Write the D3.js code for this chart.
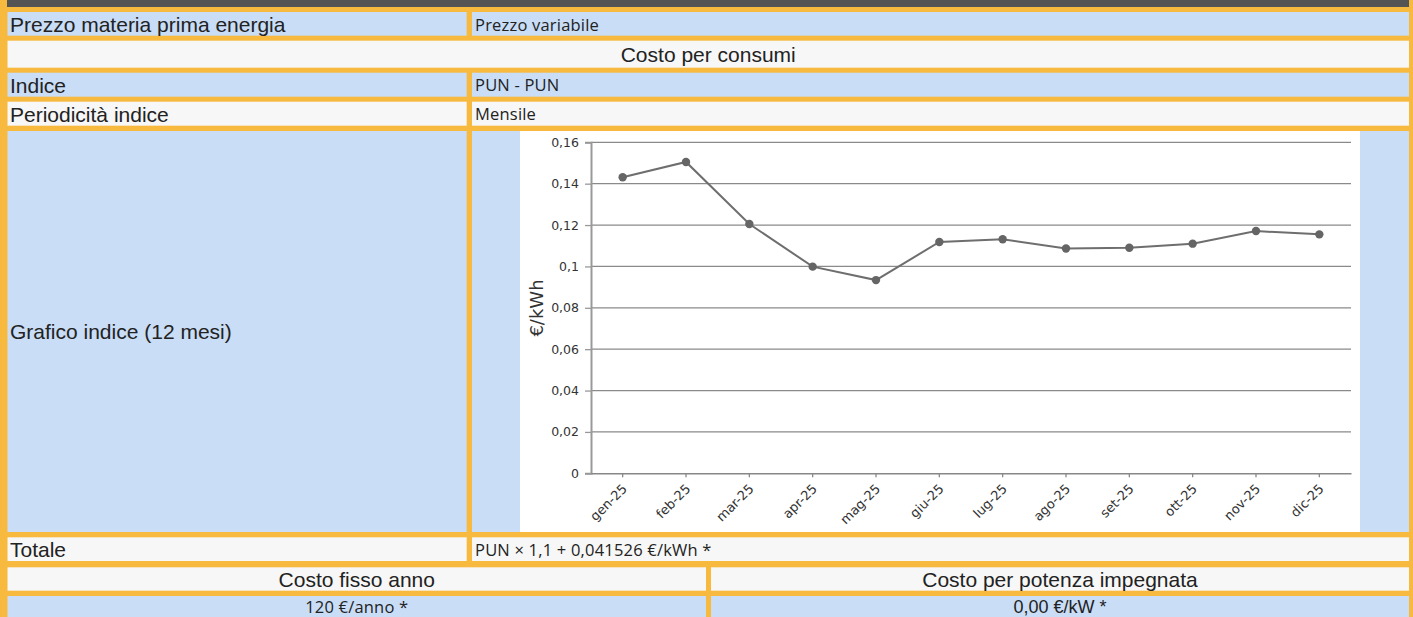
<!DOCTYPE html>
<html><head><meta charset="utf-8">
<script src="https://cdn.jsdelivr.net/npm/d3@7"></script>
<style>html,body{margin:0;padding:0;background:#fff;overflow:hidden}</style>
</head><body><svg id="c" width="1413" height="617"></svg>
<script>
// ---- data ----
const months = ["gen-25","feb-25","mar-25","apr-25","mag-25","giu-25","lug-25","ago-25","set-25","ott-25","nov-25","dic-25"];
const pun = [0.1431,0.1505,0.1205,0.0999,0.0934,0.1118,0.1131,0.1087,0.1090,0.1110,0.1171,0.1155];
const yTickValues = [0,0.02,0.04,0.06,0.08,0.1,0.12,0.14,0.16];
const yTitle = "€/kWh";
const rowLabels = ["Prezzo materia prima energia","Indice","Periodicità indice","Grafico indice (12 mesi)","Totale"];
const rowValues = ["Prezzo variabile","PUN - PUN","Mensile","","PUN × 1,1 + 0,041526 €/kWh *"];
const sectionTitle = "Costo per consumi";
const splitHeads = ["Costo fisso anno","Costo per potenza impegnata"];
const splitValues = ["120 €/anno *","0,00 €/kW *"];

// ---- drawing ----
const W = 1413, H = 617;
const C = {orange:"#f7b93e", blue:"#c9ddf6", gray:"#f7f7f7", dark:"#545454", text:"#222"};
const SANS = "'Liberation Sans', Arial, sans-serif";
const VAL = "'Open Sans', sans-serif";
const svg = d3.select("#c");
svg.append("rect").attr("width", W).attr("height", H).attr("fill", C.orange);
svg.append("rect").attr("x", 7).attr("y", 0).attr("width", 1402).attr("height", 7).attr("fill", C.dark);

const L0 = 7.5, L1 = 466.7, R0 = 472, R1 = 1409, M0 = 706, M1 = 711;
const rows = [
  {y0:12, y1:35.7, type:"pair", fill:C.blue, i:0},
  {y0:40.7, y1:67.7, type:"head", fill:C.gray},
  {y0:72.7, y1:96.7, type:"pair", fill:C.blue, i:1},
  {y0:101.7, y1:125.7, type:"pair", fill:C.gray, i:2},
  {y0:131, y1:532, type:"pair", fill:C.blue, i:3, chart:true},
  {y0:537.3, y1:561, type:"pair", fill:C.gray, i:4},
  {y0:567.3, y1:590.7, type:"split", fill:C.gray, texts:splitHeads, fonts:[SANS, SANS], sizes:[21, 21], ls:[0, 0]},
  {y0:596, y1:622, type:"split", fill:C.blue, texts:splitValues, fonts:[VAL, SANS], sizes:[16.5, 18], ls:[0.2, 0]}
];

function txt(g, x, y, s, font, size, anchor, ls) {
  return g.append("text").attr("x", x).attr("y", y).attr("dy", "0.35em")
    .attr("font-family", font).attr("font-size", size).attr("fill", C.text)
    .attr("letter-spacing", ls || 0)
    .attr("text-anchor", anchor || "start").text(s);
}

rows.forEach(r => {
  const cy = (r.y0 + r.y1) / 2;
  if (r.type === "pair") {
    svg.append("rect").attr("x", L0).attr("y", r.y0).attr("width", L1 - L0).attr("height", r.y1 - r.y0).attr("fill", r.fill);
    svg.append("rect").attr("x", R0).attr("y", r.y0).attr("width", R1 - R0).attr("height", r.y1 - r.y0).attr("fill", r.fill);
    txt(svg, 10, cy + 0.5, rowLabels[r.i], SANS, 21);
    if (rowValues[r.i]) txt(svg, 475, cy + 1, rowValues[r.i], VAL, 16.5, "start", 0.2);
  } else if (r.type === "head") {
    svg.append("rect").attr("x", L0).attr("y", r.y0).attr("width", R1 - L0).attr("height", r.y1 - r.y0).attr("fill", r.fill);
    txt(svg, (L0 + R1) / 2, cy + 0.5, sectionTitle, SANS, 21, "middle");
  } else {
    svg.append("rect").attr("x", L0).attr("y", r.y0).attr("width", M0 - L0).attr("height", r.y1 - r.y0).attr("fill", r.fill);
    svg.append("rect").attr("x", M1).attr("y", r.y0).attr("width", R1 - M1).attr("height", r.y1 - r.y0).attr("fill", r.fill);
    const ty = r.y1 > H ? r.y0 + 11 : cy + 0.5;
    txt(svg, (L0 + M0) / 2, ty, r.texts[0], r.fonts[0], r.sizes[0], "middle", r.ls[0]);
    txt(svg, (M1 + R1) / 2, ty, r.texts[1], r.fonts[1], r.sizes[1], "middle", r.ls[1]);
  }
});

// ---- chart ----
const chart = svg.append("g");
chart.append("rect").attr("x", 520).attr("y", 131).attr("width", 840).attr("height", 401).attr("fill", "#fff");

const x = d3.scaleBand().domain(months).range([591, 1351]);
const y = d3.scaleLinear().domain([0, 0.16]).range([473.3, 142.3]);
const loc = d3.formatLocale({decimal: ",", thousands: ".", grouping: [3], currency: ["€", ""]});
const fmt = loc.format(".2~f");
const TICKFONT = "'DejaVu Sans', Verdana, sans-serif";

// gridlines
chart.append("g").selectAll("line").data(yTickValues.filter(d => d > 0)).join("line")
  .attr("x1", 591).attr("x2", 1351).attr("y1", d => y(d)).attr("y2", d => y(d))
  .attr("stroke", "#8a8a8a").attr("stroke-width", 1.3);

// y axis
const yAxis = chart.append("g").attr("transform", "translate(591,0)")
  .call(d3.axisLeft(y).tickValues(yTickValues).tickFormat(fmt).tickSize(6).tickPadding(6));
yAxis.select(".domain").attr("stroke", "#999").attr("stroke-width", 2);
yAxis.selectAll(".tick line").attr("stroke", "#999").attr("stroke-width", 1.3);
yAxis.selectAll("text").attr("font-family", TICKFONT).attr("font-size", 12.5).attr("fill", "#333");

// x axis
const xAxis = chart.append("g").attr("transform", "translate(0,473.3)")
  .call(d3.axisBottom(x).tickSize(4).tickSizeOuter(0));
xAxis.select(".domain").attr("stroke", "#888").attr("stroke-width", 1.5);
xAxis.selectAll(".tick line").attr("stroke", "#888").attr("stroke-width", 1.3);
xAxis.selectAll("text")
  .attr("font-family", TICKFONT).attr("font-size", 13).attr("fill", "#333")
  .attr("text-anchor", "end").attr("x", 0).attr("y", 0).attr("dy", "0.35em")
  .attr("transform", "translate(2,13) rotate(-45)");

// y title
chart.append("text").attr("transform", "translate(537,308) rotate(-90)")
  .attr("text-anchor", "middle").attr("dy", "0.35em")
  .attr("font-family", TICKFONT).attr("font-size", 18).attr("fill", "#333")
  .text(yTitle);

// line + markers
const cx = d => x(d) + x.bandwidth() / 2;
const line = d3.line().x((d, i) => cx(months[i])).y(d => y(d));
chart.append("path").datum(pun).attr("d", line).attr("fill", "none")
  .attr("stroke", "#6e6e6e").attr("stroke-width", 2);
chart.append("g").selectAll("circle").data(pun).join("circle")
  .attr("cx", (d, i) => cx(months[i])).attr("cy", d => y(d)).attr("r", 4.2).attr("fill", "#656565");
</script></body></html>
